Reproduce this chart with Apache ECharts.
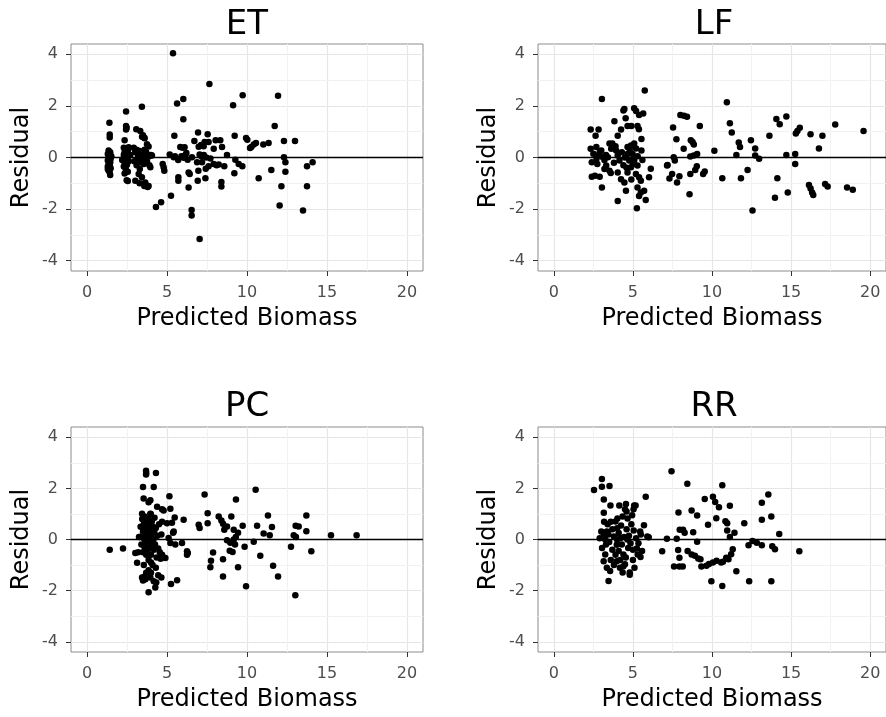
<!DOCTYPE html>
<html>
<head>
<meta charset="utf-8">
<script src="https://cdn.jsdelivr.net/npm/echarts@6/dist/echarts.min.js"></script>
<style>
html,body{margin:0;padding:0;background:#fff;}
#chart{width:886px;height:717px;}
</style>
</head>
<body>
<div id="chart"></div>
<script>
// ---- tick labels ----
const xTicks = [0, 5, 10, 15, 20];
const yTicks = [-4, -2, 0, 2, 4];
const xMinor = [2.5, 7.5, 12.5, 17.5];
const yMinor = [-3, -1, 1, 3];
const panelTitles = ['ET', 'LF', 'PC', 'RR'];
const xLabel = 'Predicted Biomass';
const yLabel = 'Residual';

// ---- series values: [predicted, residual] ----
const etPoints = [
[1.40,1.35],[1.42,0.89],[1.42,0.78],[1.35,0.27],[1.45,0.2],[1.3,0.14],[1.42,0.08],[1.35,0.01],[1.48,-0.05],[1.3,-0.12],[1.45,-0.18],[1.35,-0.25],[1.42,-0.3],[1.3,-0.35],[1.48,-0.42],[1.35,-0.5],[1.42,-0.58],[1.45,-0.68],[1.3,-0.45],[1.52,0.05],
[2.44,1.78],[2.44,1.22],[2.44,1.09],[2.48,1.15],[2.35,0.67],[2.3,0.38],[2.45,0.32],[2.55,0.27],[2.35,0.2],[2.5,0.15],[2.3,0.1],[2.42,0.05],[2.55,0.02],[2.3,-0.05],[2.45,-0.1],[2.6,-0.15],[2.35,-0.2],[2.5,-0.28],[2.3,-0.35],[2.42,-0.45],[2.55,-0.55],[2.35,-0.62],[2.48,-0.88],[2.55,-0.91],[2.6,0.4],[2.2,-0.1],[2.7,0.1],
[2.92,0.38],[3.08,1.1],[3.33,1.03],[3.43,1.97],[3.5,0.86],[3.58,0.77],[3.6,0.75],[3.44,0.8],[3.85,0.43],[3.75,0.51],[3.0,0.2],[3.1,0.3],[3.2,0.1],[3.3,0.25],[3.4,0.15],[3.5,0.05],[3.6,0.3],[3.7,0.2],[3.8,0.1],[3.9,0.05],[4.0,0.1],[3.15,-0.05],[3.25,-0.15],[3.35,-0.1],[3.45,-0.2],[3.55,-0.25],[3.65,-0.05],[3.75,-0.15],[3.9,-0.3],[4.06,0.08],[3.96,-0.38],[3.02,-0.9],[3.23,-0.64],[3.43,-0.77],[3.29,-1.0],[3.58,-1.1],[3.64,-0.97],[3.79,-1.14],[3.85,-1.1],[3.1,-0.3],[3.3,-0.45],[2.95,-0.15],
[4.73,-0.25],[4.79,-0.38],[4.83,-0.51],[4.31,-1.92],[4.63,-1.73],[5.25,-1.48],[5.375,4.04],[5.46,0.84],[5.17,0.12],[5.42,0.01],[5.63,2.09],[6.02,2.27],[6.02,1.48],[5.83,0.41],[5.98,0.38],[6.1,0.4],[6.04,-0.01],[6.21,0.17],[6.29,-0.09],[6.56,0.01],[5.71,-0.77],[5.71,-0.9],[6.35,-0.58],[6.42,-0.64],[6.35,-1.16],[6.54,-2.04],[6.54,-2.25],[7.04,-3.16],[6.71,0.64],[6.94,0.97],[7.13,0.48],[7.29,0.44],[7.04,0.12],[7.17,0.04],[6.88,-0.18],[7.19,-0.18],[6.96,-0.51],[6.92,-0.9],[7.4,-0.8],[7.42,-0.44],[7.6,-0.34],[7.54,0.9],[7.65,2.85],[7.71,-0.04],[7.92,0.34],[7.92,-0.25],[8.04,0.67],[8.33,0.67],[8.44,0.41],[8.23,-0.27],[8.58,-0.34],[8.4,-0.95],[8.4,-1.12],[8.75,0.1],[9.13,2.03],[9.23,0.84],[9.27,-0.09],[9.48,-0.25],[9.71,-0.34],[9.21,-0.61],[9.73,2.41],[9.94,0.76],[10.02,0.69],[10.19,0.37],[10.27,0.41],[10.42,0.5],[10.56,0.56],[10.73,-0.8],[11.02,0.5],[11.35,0.56],[11.52,-0.48],[11.73,1.22],[11.94,2.39],[12.04,-1.86],[12.15,-1.11],[12.31,0.64],[12.31,0.01],[12.4,-0.18],[12.4,-0.55],[13.0,0.64],[13.5,-2.05],[13.75,-0.34],[13.75,-1.11],[14.1,-0.18],[5.5,0.05],[5.9,0.05],[6.15,0.1],[7.3,0.1],[7.45,0.0],[8.1,-0.3],[6.98,0.42],[7.35,0.6],[7.6,0.6],[5.7,-0.1]
];

const lfPoints = [
[2.33,1.09],[2.83,1.09],[2.64,0.84],[3.04,2.27],[3.83,1.41],[4.46,1.88],[4.4,1.82],[4.54,1.52],[4.66,1.22],[4.25,1.09],[4.04,0.84],[5.08,1.91],[5.2,1.8],[5.39,1.65],[5.65,1.71],[5.29,1.22],[5.54,0.72],[5.75,2.6],[4.9,1.22],[5.38,1.1],
[2.33,0.34],[2.69,0.41],[3.0,0.27],[2.4,-0.18],[2.8,0.08],[3.1,0.01],[2.6,-0.71],[2.9,-0.75],[3.04,-1.16],[2.5,0.15],[2.7,-0.05],[2.9,0.2],[3.2,-0.1],[3.3,0.1],[2.4,-0.75],[2.75,-0.25],[3.2,-0.45],
[3.52,0.54],[3.63,0.34],[3.42,0.01],[3.31,-0.31],[3.52,-0.51],[3.94,0.27],[4.04,0.08],[4.15,-0.12],[4.04,-0.58],[4.25,-0.84],[4.46,-0.97],[4.56,-1.29],[4.04,-1.69],[3.7,0.54],[3.9,0.44],[3.8,-0.2],[4.3,0.2],[4.4,-0.3],[3.6,-0.6],
[4.66,0.41],[4.88,0.47],[5.08,0.54],[4.98,0.14],[4.66,0.14],[4.77,-0.12],[5.08,-0.12],[5.29,-0.31],[4.88,-0.38],[4.66,-0.58],[5.19,-0.64],[5.39,-0.77],[5.29,-1.16],[5.5,-1.36],[5.39,-1.49],[5.81,-1.65],[5.71,-1.29],[6.13,-0.44],[6.02,-0.77],[5.25,-1.97],[5.54,0.27],[5.3,0.05],[4.8,0.3],[5.0,-0.25],[4.5,0.0],[5.6,-0.1],[4.9,-0.85],[5.2,0.35],[4.6,-0.4],[5.5,-0.9],
[7.54,1.16],[7.75,0.71],[8.21,0.34],[8.66,0.67],[7.58,0.01],[7.16,-0.31],[7.48,-0.64],[7.31,-0.81],[7.94,-0.73],[7.79,-0.97],[8.63,-0.64],[8.58,-1.42],[8.0,1.65],[8.23,1.62],[8.42,1.58],[8.85,0.5],[8.77,0.6],[9.06,0.14],[8.85,0.08],[8.63,0.04],[9.04,-0.34],[8.94,-0.48],[9.54,-0.54],[9.44,-0.64],[9.23,1.22],[10.15,0.26],[10.65,-0.8],[10.94,2.14],[11.13,1.33],[11.25,0.97],[11.69,0.58],[11.77,0.41],[11.54,0.1],[11.83,-0.8],[12.25,-0.48],[12.46,0.67],[12.73,0.35],[12.73,0.08],[12.98,-0.05],[12.56,-2.05],[13.63,0.84],[14.07,1.49],[14.28,1.29],[14.7,1.59],[14.13,-0.8],[13.98,-1.56],[14.7,0.1],[14.79,-1.36],[15.26,0.14],[15.26,-0.25],[15.3,0.93],[15.4,1.03],[15.55,1.15],[16.23,0.9],[16.76,0.35],[16.98,0.84],[16.13,-1.07],[16.23,-1.2],[16.33,-1.36],[16.4,-1.45],[17.15,-1.03],[17.31,-1.12],[17.79,1.28],[18.54,-1.16],[18.9,-1.25],[19.58,1.03],[7.65,-0.12],[7.19,-0.29]
];

const pcPoints = [
[1.42,-0.4],[2.25,-0.35],[3.69,2.69],[3.7,2.6],[3.69,2.54],[4.31,2.6],[3.5,2.05],[4.17,2.05],[3.54,1.6],[3.85,1.46],[3.96,1.54],[3.44,1.01],[3.96,1.01],[4.38,1.28],[4.69,1.18],[4.79,1.13],[5.15,1.69],[5.21,1.2],[5.48,0.86],[6.04,0.77],[4.69,0.69],[5.0,0.64],[5.31,0.66],[5.42,0.31],[5.38,0.26],[5.1,0.06],[5.21,-0.14],[5.52,-0.2],[5.94,-0.14],[6.25,-0.46],[6.25,-0.6],[6.3,-0.53],
[3.3,0.1],[3.35,0.5],[3.4,-0.2],[3.45,0.8],[3.5,0.3],[3.5,-0.5],[3.55,0.05],[3.55,0.6],[3.6,-0.3],[3.6,0.9],[3.62,0.2],[3.65,-0.1],[3.65,0.45],[3.7,-0.6],[3.7,0.7],[3.72,0.15],[3.75,-0.2],[3.75,0.35],[3.78,0.55],[3.8,-0.4],[3.8,0.0],[3.82,0.25],[3.85,0.8],[3.85,-0.8],[3.88,0.4],[3.9,-0.05],[3.9,0.6],[3.92,0.2],[3.95,-0.3],[3.95,0.45],[3.98,1.0],[4.0,0.1],[4.0,-0.6],[4.02,0.35],[4.05,-0.15],[4.05,0.7],[4.08,0.25],[4.1,-1.0],[4.12,0.5],[4.15,0.0],[4.18,-0.4],[4.2,0.3],[4.22,0.85],[4.25,-0.2],[4.3,0.45],[4.35,-0.7],[4.4,0.15],[4.45,-0.35],[4.5,0.6],[4.55,-0.5],[4.6,-0.75],[4.65,0.2],
[3.02,-0.53],[3.13,-0.91],[3.25,0.1],[3.2,-0.5],[3.44,-1.49],[3.5,-1.6],[3.65,-1.55],[3.96,-1.49],[3.7,-1.3],[3.85,-1.2],[4.0,-1.3],[3.55,-1.0],[3.6,-1.45],[3.85,-2.06],[4.27,-1.88],[4.33,-1.68],[4.65,-1.49],[4.17,-1.63],[4.9,-0.72],[4.69,-0.6],[4.79,-0.7],[5.25,-1.74],[5.63,-1.59],[4.0,-0.9],[4.3,-1.1],[4.45,-1.4],
[6.98,0.58],[7.04,0.45],[7.35,1.76],[7.54,1.03],[7.54,0.64],[8.23,0.9],[8.4,0.74],[8.5,0.62],[9.02,0.9],[9.31,1.56],[10.54,1.95],[11.31,0.94],[13.71,0.94],[8.58,0.38],[8.75,0.51],[9.17,0.38],[9.44,0.26],[9.73,0.54],[10.63,0.54],[11.56,0.49],[11.04,0.23],[11.42,0.17],[13.04,0.54],[13.23,0.51],[13.71,0.32],[12.92,0.17],[13.06,0.1],[15.25,0.17],[16.85,0.17],[8.75,-0.03],[8.96,-0.13],[9.17,0.0],[10.42,-0.09],[9.85,-0.28],[12.75,-0.28],[14.02,-0.46],[8.92,-0.44],[9.1,-0.49],[10.83,-0.64],[7.88,-0.51],[7.75,-0.83],[7.71,-1.09],[8.5,-0.77],[9.44,-1.09],[11.63,-1.03],[8.5,-1.45],[11.94,-1.45],[9.94,-1.83],[13.02,-2.18],[9.3,0.1],[9.25,-0.2]
];

const rrPoints = [
[2.54,1.94],[3.04,2.37],[3.04,2.06],[3.52,2.09],[3.16,1.56],[3.58,1.33],[3.16,1.05],[5.81,1.67],[4.14,1.33],[4.56,1.39],[5.08,1.33],[5.17,1.33],[5.04,1.18],[4.5,1.18],[3.18,0.69],[3.6,0.69],[4.02,0.82],[4.35,0.9],[4.66,0.82],[5.7,0.56],[5.46,0.31],[5.91,0.12],[6.0,0.09],[3.0,0.31],[3.16,0.18],[2.9,0.05],[3.35,0.31],[4.0,0.44],[3.8,0.12],
[3.05,-0.33],[3.25,-0.59],[3.15,-0.85],[3.35,-1.1],[3.56,-1.23],[3.98,-0.85],[4.18,-1.1],[4.5,-0.97],[4.8,-1.29],[5.1,-1.1],[5.3,-0.59],[5.0,-0.4],[4.7,-0.33],[4.4,-0.59],[3.98,-0.21],[3.46,-1.62],[4.35,-1.29],[4.8,-1.38],
[3.4,0.6],[3.7,0.4],[3.9,0.7],[4.1,0.25],[4.25,0.55],[4.45,0.1],[4.6,0.4],[4.75,0.15],[4.9,0.6],[5.05,0.35],[5.2,0.05],[5.35,-0.15],[3.5,-0.1],[3.7,-0.4],[3.9,-0.6],[4.1,-0.45],[4.3,-0.2],[4.55,-0.7],[4.65,0.0],[4.85,-0.15],[5.0,-0.8],[3.3,-0.2],[3.6,-0.8],[3.8,-1.0],[4.2,-0.8],[4.4,-1.05],[5.25,-0.35],[4.95,0.95],[4.6,1.1],[3.25,0.0],[3.45,0.2],[5.5,0.2],[4.0,0.0],[4.2,0.05],
[5.58,-0.45],[5.48,-0.68],
[6.85,-0.46],[7.15,0.03],[7.44,2.67],[7.6,-1.06],[7.77,0.03],[7.86,-0.41],[7.88,1.06],[7.94,-0.71],[7.94,-1.06],[7.96,0.38],[8.15,-1.06],[8.17,0.38],[8.27,0.26],[8.44,2.18],[8.46,-0.45],[8.71,1.13],[8.71,-0.59],[8.81,0.28],[8.92,-0.64],[9.06,0.94],[9.06,-0.09],[9.13,-0.74],[9.27,-0.77],[9.33,-1.06],[9.54,1.58],[9.65,-1.03],[9.75,0.58],[9.81,-0.96],[9.96,-1.63],[10.06,1.67],[10.06,-0.9],[10.2,1.47],[10.27,0.83],[10.29,-0.83],[10.44,1.26],[10.58,-0.9],[10.65,2.12],[10.65,-1.82],[10.69,-0.87],[10.85,0.71],[10.9,-0.71],[10.96,0.64],[10.96,0.35],[11.04,-0.77],[11.13,1.32],[11.13,0.1],[11.21,-0.58],[11.31,-0.38],[11.42,0.26],[11.54,-1.24],[12.04,0.64],[12.31,-0.22],[12.35,-1.63],[12.56,-0.06],[12.83,-0.13],[13.15,1.44],[13.15,0.77],[13.15,-0.22],[13.56,1.76],[13.75,0.9],[13.75,-1.63],[13.81,-0.26],[13.98,-0.38],[14.25,0.22],[15.52,-0.46]
];

const panelData = [etPoints, lfPoints, pcPoints, rrPoints];

// ---- layout ----
const FONT = '"DejaVu Sans", "Liberation Sans", Arial, sans-serif';
const grids = [
  {left: 71, top: 44, width: 352, height: 227},
  {left: 538, top: 44, width: 352, height: 227},
  {left: 71, top: 427, width: 352, height: 225},
  {left: 538, top: 427, width: 352, height: 225}
];
const titleY = [25, 25, 407, 407];

const chart = echarts.init(document.getElementById('chart'), null, {renderer: 'canvas'});

const option = {
  animation: false,
  backgroundColor: '#ffffff',
  grid: grids.map(g => Object.assign({show: true, borderColor: '#8c8c8c', borderWidth: 1, backgroundColor: 'transparent'}, g)),
  xAxis: grids.map((g, i) => ({
    type: 'value', gridIndex: i, min: -1, max: 21, position: 'bottom',
    name: xLabel, nameLocation: 'middle', nameGap: 36,
    nameTextStyle: {fontSize: 24, color: '#000', fontFamily: FONT},
    axisLine: {show: false, onZero: false},
    axisTick: {show: true, inside: false, length: 5, customValues: xTicks, lineStyle: {color: '#333', width: 1}},
    axisLabel: {customValues: xTicks, fontSize: 16, color: '#4d4d4d', margin: 14, fontFamily: FONT},
    splitLine: {show: true, lineStyle: {color: '#e6e6e6', width: 1.2}}
  })),
  yAxis: grids.map((g, i) => ({
    type: 'value', gridIndex: i, min: -4.4, max: 4.4, position: 'left',
    name: yLabel, nameLocation: 'middle', nameGap: 37, nameRotate: 90,
    nameTextStyle: {fontSize: 24, color: '#000', fontFamily: FONT},
    axisLine: {show: false, onZero: false},
    axisTick: {show: true, inside: false, length: 5, customValues: yTicks, lineStyle: {color: '#333', width: 1}},
    axisLabel: {customValues: yTicks, fontSize: 16, color: '#4d4d4d', margin: 13, fontFamily: FONT},
    splitLine: {show: true, lineStyle: {color: '#e6e6e6', width: 1.2}}
  })),
  graphic: panelTitles.map((t, i) => ({
    type: 'text',
    x: grids[i].left + grids[i].width / 2,
    y: titleY[i],
    silent: true,
    style: {text: t, fontSize: 34, fontFamily: FONT, fill: '#000', textAlign: 'center', textVerticalAlign: 'middle'}
  })),
  series: []
};

panelData.forEach((pts, i) => {
  option.series.push({
    type: 'line', xAxisIndex: i, yAxisIndex: i, data: [], z: 1, silent: true,
    markLine: {
      silent: true, symbol: 'none', animation: false,
      label: {show: false},
      data: xMinor.map(v => ({xAxis: v, lineStyle: {color: '#f2f2f2', width: 1, type: 'solid'}}))
        .concat(yMinor.map(v => ({yAxis: v, lineStyle: {color: '#f2f2f2', width: 1, type: 'solid'}})))
        .concat([{yAxis: 0, lineStyle: {color: '#000', width: 1.3, type: 'solid'}}])
    }
  });
  option.series.push({
    type: 'scatter', name: panelTitles[i], xAxisIndex: i, yAxisIndex: i, z: 10,
    symbol: 'circle', symbolSize: 6.5,
    itemStyle: {color: '#000', opacity: 1},
    data: pts
  });
});

chart.setOption(option);
</script>
</body>
</html>
